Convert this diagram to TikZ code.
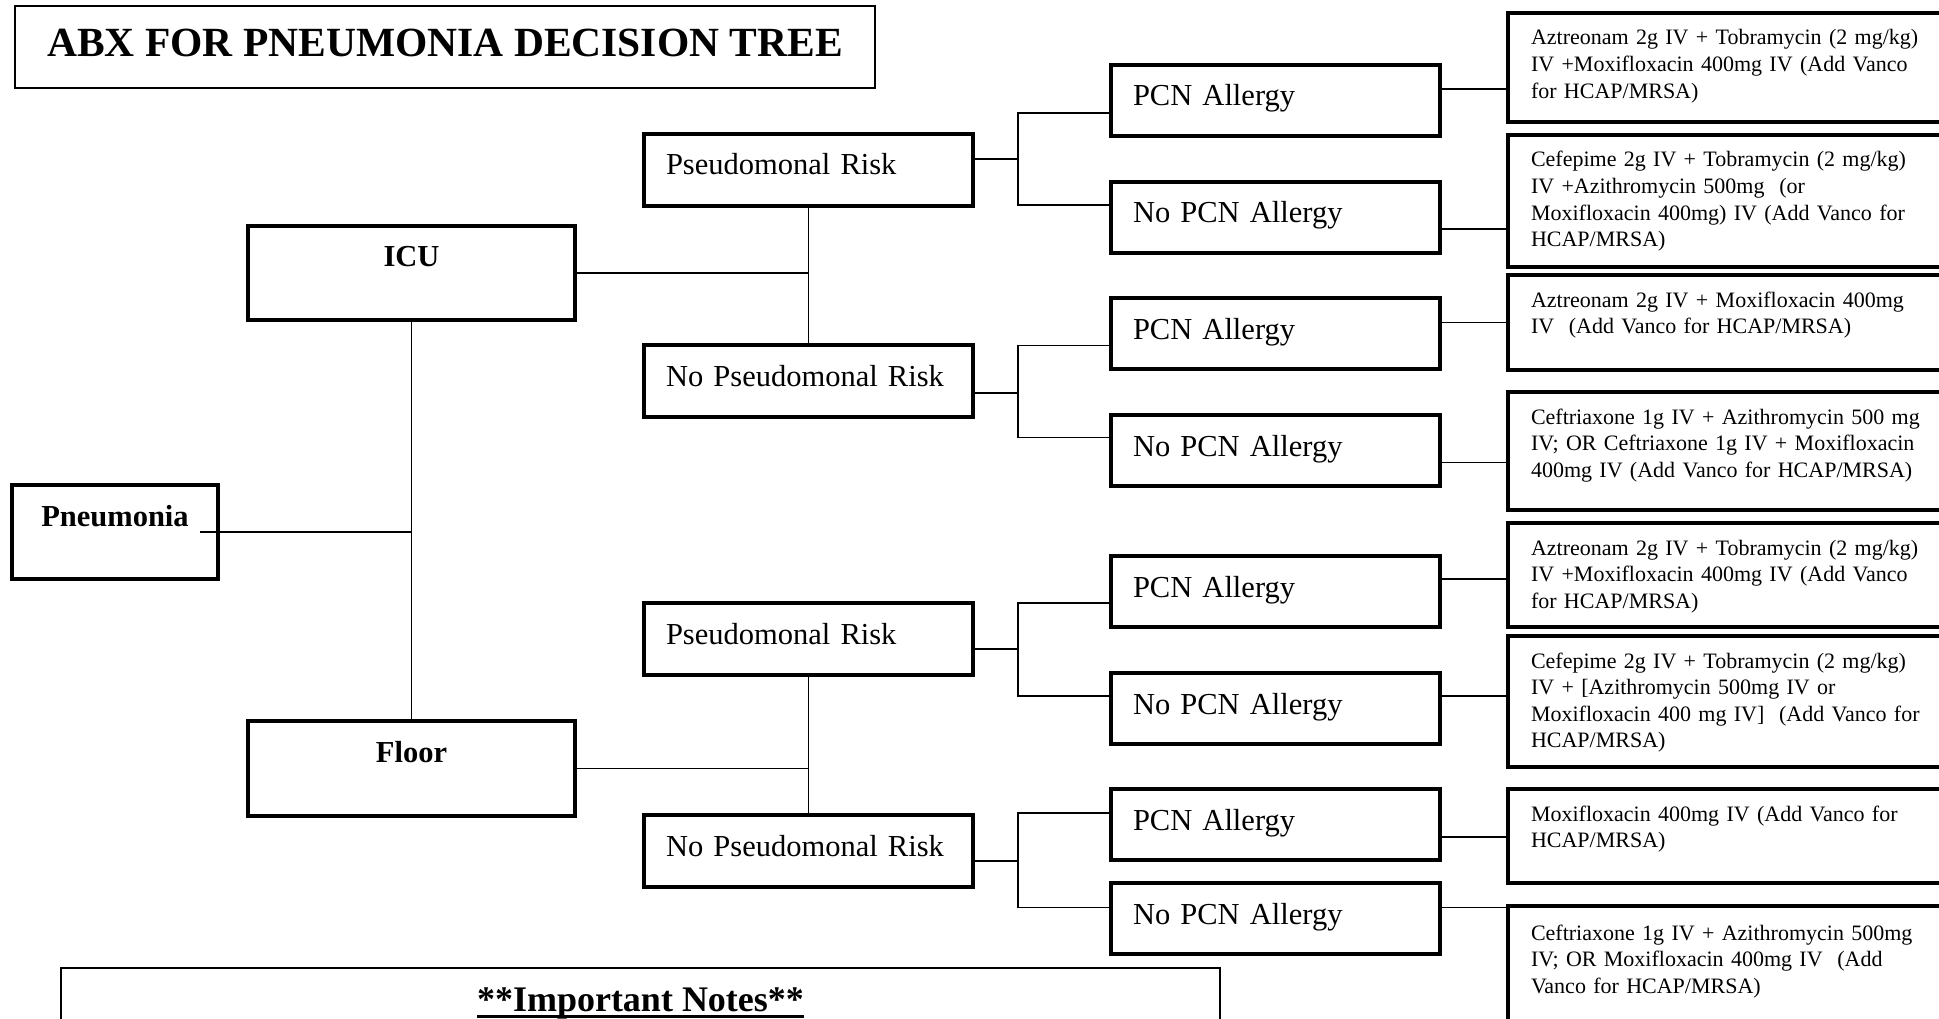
\documentclass[tikz,border=0pt]{standalone}
\usepackage{fontspec}
\setmainfont{Liberation Serif}
\begin{document}
\begin{tikzpicture}[x=1pt, y=-1pt,
    every node/.style={outer sep=0pt, inner ysep=0pt},
    tbox/.style={draw, line width=3.5pt, anchor=north west},
    headbox/.style={tbox, inner xsep=0pt, text height=41pt,
      font=\fontsize{30.5}{36}\selectfont\bfseries},
    leftbox/.style={tbox, text width=285pt, inner xsep=22pt, align=left,
      text height=41pt, font=\fontsize{30.5}{36}\selectfont},
    drugbox/.style={tbox, text width=414pt, inner xsep=23pt, align=left,
      text height=32pt, font=\fontsize{22}{26.6}\selectfont},
    wire/.style={line width=1.6pt}]
    \useasboundingbox (0,0) rectangle (1939,1019);
    \clip (0,0) rectangle (1939,1019);
    \fill[white] (0,0) rectangle (1939,1019);

    \node[draw, line width=1.8pt, anchor=north west, minimum width=860pt,
      inner sep=0pt, text height=51pt, text depth=31pt,
      font=\fontsize{41.5}{46}\selectfont\bfseries] (title) at (15,6)
      {ABX FOR PNEUMONIA DECISION TREE};

    \node[headbox, minimum width=206pt, text depth=53pt] (pneu) at (12,485) {Pneumonia};
    \node[headbox, minimum width=327pt, text depth=53pt] (icu) at (248,226) {ICU};
    \node[headbox, minimum width=327pt, text depth=54pt] (floor) at (248,721) {Floor};

    \node[leftbox, text depth=31pt] (pr1) at (644,134) {Pseudomonal Risk};
    \node[leftbox, text depth=31pt] (npr1) at (644,345) {No Pseudomonal Risk};
    \node[leftbox, text depth=31pt] (pr2) at (644,603) {Pseudomonal Risk};
    \node[leftbox, text depth=31pt] (npr2) at (644,815) {No Pseudomonal Risk};

    \foreach \n/\y/\t in {1/65/PCN Allergy, 2/182/No PCN Allergy,
        3/298/PCN Allergy, 4/415/No PCN Allergy, 5/556/PCN Allergy,
        6/673/No PCN Allergy, 7/789/PCN Allergy, 8/883/No PCN Allergy}
      \node[leftbox, text depth=30pt] (pcn\n) at (1111,\y) {\t};

    %%%% regimens
    \node[drugbox, text depth=77pt] (drug1) at (1508,13)
      {Aztreonam 2g IV + Tobramycin (2 mg/kg)\\ IV +Moxifloxacin 400mg IV (Add Vanco\\ for HCAP/MRSA)};
    \node[drugbox, text depth=100pt] (drug2) at (1508,135)
      {Cefepime 2g IV + Tobramycin (2 mg/kg)\\ IV +Azithromycin 500mg~ (or\\ Moxifloxacin 400mg) IV (Add Vanco for\\ HCAP/MRSA)};
    \node[drugbox, text depth=63pt] (drug3) at (1508,275)
      {Aztreonam 2g IV + Moxifloxacin 400mg\\ IV~ (Add Vanco for HCAP/MRSA)};
    \node[drugbox, text depth=86pt] (drug4) at (1508,392)
      {Ceftriaxone 1g IV + Azithromycin 500 mg\\ IV; OR Ceftriaxone 1g IV + Moxifloxacin\\ 400mg IV (Add Vanco for HCAP/MRSA)};
    \node[drugbox, text depth=72pt] (drug5) at (1508,523)
      {Aztreonam 2g IV + Tobramycin (2 mg/kg)\\ IV +Moxifloxacin 400mg IV (Add Vanco\\ for HCAP/MRSA)};
    \node[drugbox, text depth=99pt] (drug6) at (1508,636)
      {Cefepime 2g IV + Tobramycin (2 mg/kg)\\ IV + [Azithromycin 500mg IV or\\ Moxifloxacin 400 mg IV]~ (Add Vanco for\\ HCAP/MRSA)};
    \node[drugbox, text depth=62pt] (drug7) at (1508,789)
      {Moxifloxacin 400mg IV (Add Vanco for\\ HCAP/MRSA)};
    \node[drugbox, text height=34pt, text depth=130pt] (drug8) at (1508,906)
      {Ceftriaxone 1g IV + Azithromycin 500mg\\ IV; OR Moxifloxacin 400mg IV~ (Add\\ Vanco for HCAP/MRSA)};

    %%%% notes
    \node[draw, line width=1.8pt, anchor=north west, minimum width=1159pt,
      minimum height=120pt] (notes) at (61,968) {};
    \node[anchor=base, inner sep=0pt, font=\fontsize{36}{40}\selectfont\bfseries]
      (imphead) at (640.5,1011) {**Important Notes**};
    \draw[line width=3pt] ([yshift=-5pt]imphead.base west) -- ([yshift=-5pt]imphead.base east);

    %%%% lines
    \draw[wire] ([xshift=-18pt]pneu.east) -- (pneu.east -| icu.south);
    \draw[wire] (icu.south) -- (floor.north);
    \draw[wire] (icu.east) -- (icu.east -| pr1.south);
    \draw[wire] (pr1.south) -- (npr1.north);
    \draw[wire] (floor.east) -- (floor.east -| pr2.south);
    \draw[wire] (pr2.south) -- (npr2.north);

    \coordinate (j1) at (1018,159);
    \coordinate (j2) at (1018,393);
    \coordinate (j3) at (1018,649);
    \coordinate (j4) at (1018,861);
    \foreach \r/\j/\a/\b/\da/\db in {pr1/j1/1/2/-12.5/12.5, npr1/j2/3/4/-12/13,
        pr2/j3/5/6/-11.5/12.5, npr2/j4/7/8/11.5/11}
      \draw[wire] (\r.east |- \j) -- (\j) (\j) |- ([yshift=\da pt]pcn\a.west)
        (\j) |- ([yshift=\db pt]pcn\b.west);

    \foreach \n/\d in {1/11.5, 2/-11.5, 3/11, 4/-12, 5/12.5, 6/12.5, 7/-12.5, 8/11}
      \draw[wire] ([yshift=\d pt]pcn\n.east) -- ([yshift=\d pt]pcn\n.east -| drug\n.west);
  \end{tikzpicture}
\end{document}
